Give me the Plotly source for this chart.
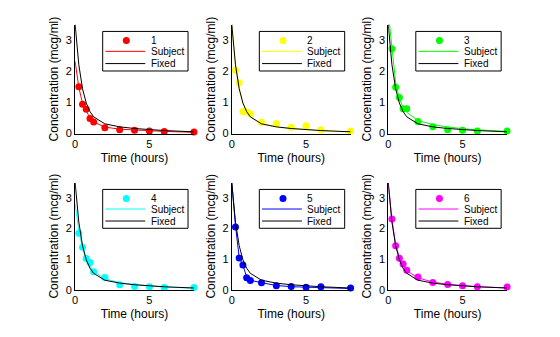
import plotly.graph_objects as go

# Plasma concentration of indomethacin for six subjects
times = [0.25, 0.5, 0.75, 1, 1.25, 2, 3, 4, 5, 6, 8]
conc = {
    1: [1.50, 0.94, 0.78, 0.48, 0.37, 0.19, 0.12, 0.11, 0.08, 0.07, 0.05],
    2: [2.03, 1.63, 0.71, 0.70, 0.64, 0.36, 0.32, 0.20, 0.25, 0.12, 0.08],
    3: [2.72, 1.49, 1.16, 0.80, 0.80, 0.39, 0.22, 0.12, 0.11, 0.08, 0.08],
    4: [1.85, 1.39, 1.02, 0.89, 0.59, 0.40, 0.16, 0.11, 0.10, 0.07, 0.07],
    5: [2.05, 1.04, 0.81, 0.39, 0.30, 0.23, 0.13, 0.11, 0.08, 0.10, 0.06],
    6: [2.31, 1.44, 1.03, 0.84, 0.64, 0.42, 0.24, 0.17, 0.13, 0.10, 0.09],
}

# Model predictions (subject-specific and population) at t = 0 and sample times
fit_times = [0, 0.25, 0.5, 0.75, 1, 1.25, 2, 3, 4, 5, 6, 8]
subject_fit = {
    1: [2.32, 1.48, 0.97, 0.72, 0.50, 0.37, 0.21, 0.14, 0.11, 0.08, 0.07, 0.04],
    2: [3.45, 2.17, 1.42, 0.97, 0.70, 0.53, 0.31, 0.21, 0.16, 0.12, 0.09, 0.05],
    3: [3.90, 2.65, 1.65, 1.12, 0.84, 0.68, 0.42, 0.29, 0.21, 0.16, 0.12, 0.07],
    4: [2.80, 1.92, 1.36, 1.00, 0.78, 0.60, 0.36, 0.23, 0.17, 0.12, 0.09, 0.05],
    5: [3.50, 2.10, 1.05, 0.80, 0.42, 0.31, 0.23, 0.14, 0.10, 0.08, 0.07, 0.04],
    6: [3.50, 2.30, 1.48, 1.05, 0.80, 0.62, 0.39, 0.25, 0.18, 0.13, 0.10, 0.06],
}
fixed_fit = [3.51, 2.21, 1.44, 0.98, 0.705, 0.537, 0.313, 0.216, 0.163, 0.125, 0.097, 0.057]

colors = {1: "#ff0000", 2: "#ffff00", 3: "#00ff00", 4: "#00ffff", 5: "#0000ff", 6: "#ff00ff"}

W, H = 560, 337
FONT = "Liberation Sans, Arial, Helvetica, sans-serif"

# subplot frames in pixels: (left, right, top, bottom)
col_px = [(72.5, 192.0), (230.0, 349.5), (387.3, 506.8)]
row_px = [(25.0, 136.0), (186.0, 295.0)]

fig = go.Figure()
layout = dict(
    width=W, height=H,
    margin=dict(l=0, r=0, t=0, b=0),
    paper_bgcolor="white", plot_bgcolor="white",
    showlegend=False,
    font=dict(family=FONT, size=11, color="black"),
)
shapes, annotations = [], []

for s in range(1, 7):
    r, c = (s - 1) // 3, (s - 1) % 3
    xa, ya = f"x{s}" if s > 1 else "x", f"y{s}" if s > 1 else "y"
    xkey, ykey = f"xaxis{s}" if s > 1 else "xaxis", f"yaxis{s}" if s > 1 else "yaxis"
    x0, x1 = col_px[c]
    t0, b0 = row_px[r]
    layout[xkey] = dict(
        domain=[x0 / W, x1 / W], anchor=ya, range=[0, 8],
        tickvals=[0, 5], ticktext=["0", "5"], showgrid=False, zeroline=False,
        showline=True, linecolor="black", linewidth=1, ticks="",
        tickfont=dict(size=11, family=FONT, color="black"),
        title=dict(text="Time (hours)", font=dict(size=12, family=FONT, color="black"), standoff=4),
    )
    layout[ykey] = dict(
        domain=[1 - b0 / H, 1 - t0 / H], anchor=xa, range=[0, 3.5],
        tickvals=[0, 1, 2, 3], showgrid=False, zeroline=False,
        showline=True, linecolor="black", linewidth=1, ticks="",
        tickfont=dict(size=11, family=FONT, color="black"),
        title=dict(text="Concentration (mcg/ml)", font=dict(size=12, family=FONT, color="black"), standoff=4),
    )
    col = colors[s]
    fig.add_trace(go.Scatter(x=times, y=conc[s], mode="markers", xaxis=xa, yaxis=ya,
                             marker=dict(color=col, size=7, line=dict(width=0)),
                             cliponaxis=False, name=str(s)))
    fig.add_trace(go.Scatter(x=fit_times, y=subject_fit[s], mode="lines", xaxis=xa, yaxis=ya,
                             line=dict(color=col, width=1), name="Subject"))
    fig.add_trace(go.Scatter(x=fit_times, y=fixed_fit, mode="lines", xaxis=xa, yaxis=ya,
                             line=dict(color="black", width=1), name="Fixed"))

    # legend box in axis-domain coordinates
    xr, yr = f"{xa} domain", f"{ya} domain"
    shapes.append(dict(type="rect", xref=xr, yref=yr, x0=0.232, x1=0.950, y0=0.574, y1=0.937,
                       line=dict(color="black", width=1), fillcolor="white", layer="above"))
    rows = [0.853, 0.754, 0.642]
    shapes.append(dict(type="circle", xref=xr, yref=yr, xsizemode="pixel", ysizemode="pixel",
                       xanchor=0.431, yanchor=rows[0], x0=-3.5, x1=3.5, y0=-3.5, y1=3.5,
                       fillcolor=col, line=dict(width=0), layer="above"))
    shapes.append(dict(type="line", xref=xr, yref=yr, x0=0.255, x1=0.590, y0=rows[1], y1=rows[1],
                       line=dict(color=col, width=1), layer="above"))
    shapes.append(dict(type="line", xref=xr, yref=yr, x0=0.255, x1=0.590, y0=rows[2], y1=rows[2],
                       line=dict(color="black", width=1), layer="above"))
    for txt, yy in zip([str(s), "Subject", "Fixed"], rows):
        annotations.append(dict(text=txt, xref=xr, yref=yr, x=0.62, y=yy, xanchor="left",
                                yanchor="middle", showarrow=False,
                                font=dict(size=10, family=FONT, color="black")))

layout["shapes"] = shapes
layout["annotations"] = annotations
fig.update_layout(**layout)
fig.write_html("out.html")
